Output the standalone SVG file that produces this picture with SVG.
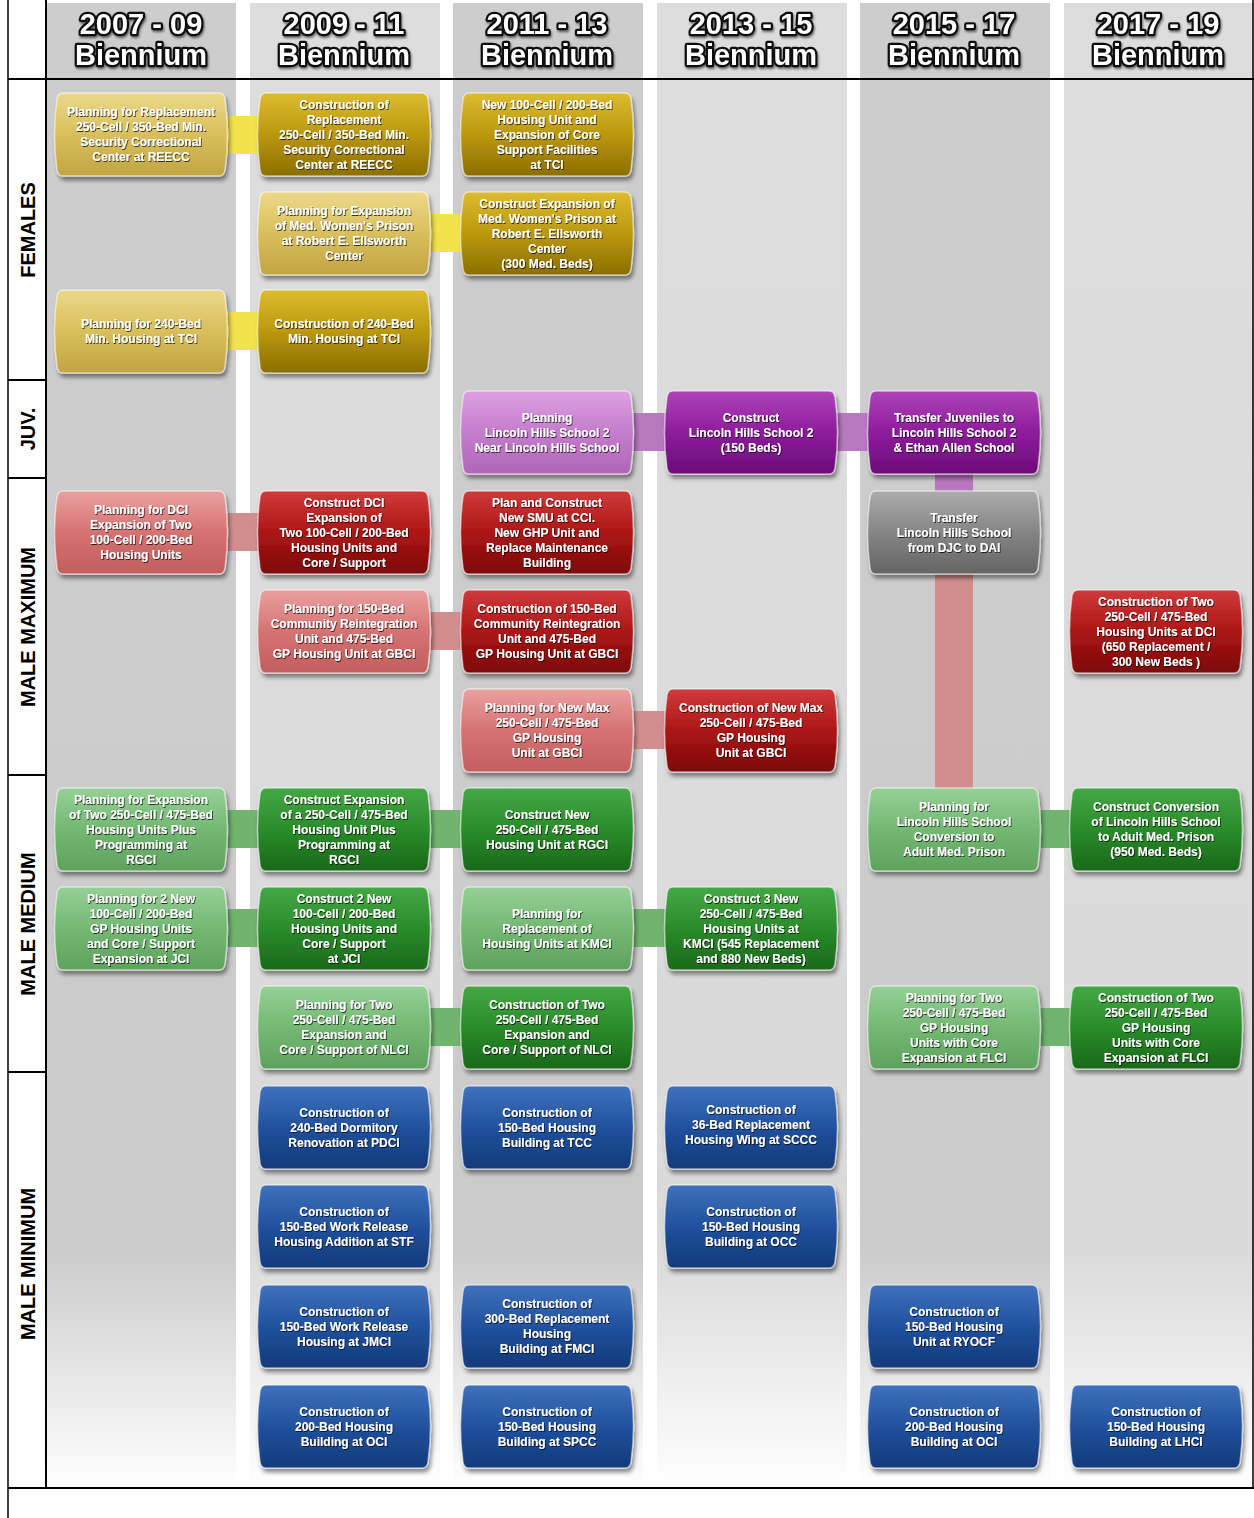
<svg xmlns="http://www.w3.org/2000/svg" xmlns:xlink="http://www.w3.org/1999/xlink" width="1254" height="1518" viewBox="0 0 1254 1518">
<defs>
<linearGradient id="bgD" gradientUnits="userSpaceOnUse" x1="0" y1="0" x2="0" y2="1488"><stop offset="0" stop-color="#cdcdcd"/><stop offset="0.84" stop-color="#cbcbcb"/><stop offset="1" stop-color="#ffffff"/></linearGradient>
<linearGradient id="bgL" gradientUnits="userSpaceOnUse" x1="0" y1="0" x2="0" y2="1488"><stop offset="0" stop-color="#dddddd"/><stop offset="0.84" stop-color="#dadada"/><stop offset="1" stop-color="#ffffff"/></linearGradient>
<linearGradient id="gGoldD" x1="0" y1="0" x2="0" y2="1"><stop offset="0" stop-color="#dcbc30"/><stop offset="0.5" stop-color="#bb980e"/><stop offset="1" stop-color="#8c6e00"/></linearGradient>
<linearGradient id="gGoldL" x1="0" y1="0" x2="0" y2="1"><stop offset="0" stop-color="#ecd888"/><stop offset="0.5" stop-color="#d9bf5c"/><stop offset="1" stop-color="#c2a444"/></linearGradient>
<linearGradient id="gPurD" x1="0" y1="0" x2="0" y2="1"><stop offset="0" stop-color="#ae44b8"/><stop offset="0.5" stop-color="#8e1c9c"/><stop offset="1" stop-color="#6c0c78"/></linearGradient>
<linearGradient id="gPurL" x1="0" y1="0" x2="0" y2="1"><stop offset="0" stop-color="#dea0e2"/><stop offset="0.5" stop-color="#c47ccc"/><stop offset="1" stop-color="#b066b8"/></linearGradient>
<linearGradient id="gRedD" x1="0" y1="0" x2="0" y2="1"><stop offset="0" stop-color="#d03a3a"/><stop offset="0.5" stop-color="#ac1616"/><stop offset="1" stop-color="#7c0808"/></linearGradient>
<linearGradient id="gRedL" x1="0" y1="0" x2="0" y2="1"><stop offset="0" stop-color="#eaa0a0"/><stop offset="0.5" stop-color="#d67272"/><stop offset="1" stop-color="#c25e5e"/></linearGradient>
<linearGradient id="gGray" x1="0" y1="0" x2="0" y2="1"><stop offset="0" stop-color="#acacac"/><stop offset="0.5" stop-color="#858585"/><stop offset="1" stop-color="#646464"/></linearGradient>
<linearGradient id="gGrnD" x1="0" y1="0" x2="0" y2="1"><stop offset="0" stop-color="#44a844"/><stop offset="0.5" stop-color="#2a8c2a"/><stop offset="1" stop-color="#1a681a"/></linearGradient>
<linearGradient id="gGrnL" x1="0" y1="0" x2="0" y2="1"><stop offset="0" stop-color="#96d096"/><stop offset="0.5" stop-color="#74b874"/><stop offset="1" stop-color="#5ea25e"/></linearGradient>
<linearGradient id="gBlue" x1="0" y1="0" x2="0" y2="1"><stop offset="0" stop-color="#3f72bd"/><stop offset="0.5" stop-color="#21519e"/><stop offset="1" stop-color="#133a7a"/></linearGradient>
<filter id="sh" x="-10%" y="-10%" width="125%" height="135%"><feDropShadow dx="2" dy="4" stdDeviation="2.2" flood-color="#000" flood-opacity="0.45"/></filter>
<filter id="tsh" x="-5%" y="-10%" width="115%" height="130%"><feDropShadow dx="0.8" dy="1" stdDeviation="0.6" flood-color="#000" flood-opacity="0.75"/></filter>
<filter id="hsh" x="-5%" y="-10%" width="115%" height="130%"><feDropShadow dx="1" dy="2" stdDeviation="1" flood-color="#000" flood-opacity="0.5"/></filter>
<path id="box" d="M6,0 H162 Q167,0 168,6 Q173,41.5 168,77 Q167,83 162,83 H6 Q1,83 0,77 Q-5,41.5 0,6 Q1,0 6,0 Z"/>
</defs>
<style>
.b{filter:url(#sh);stroke:#ffffff;stroke-opacity:0.55;stroke-width:1.5}
.gd{fill:url(#gGoldD)} .gl{fill:url(#gGoldL)} .pd{fill:url(#gPurD)} .pl{fill:url(#gPurL)}
.rd{fill:url(#gRedD)} .rl{fill:url(#gRedL)} .gy{fill:url(#gGray)} .nd{fill:url(#gGrnD)} .nl{fill:url(#gGrnL)} .bl{fill:url(#gBlue)}
.t{font-family:"Liberation Sans",Arial,sans-serif;font-weight:bold;font-size:12px;fill:#ffffff;text-anchor:middle;filter:url(#tsh)}
.h{font-family:"Liberation Sans",Arial,sans-serif;font-weight:bold;font-size:29px;fill:#ffffff;stroke:#111111;stroke-width:4.5px;stroke-linejoin:round;paint-order:stroke;text-anchor:middle;filter:url(#hsh)}
.lab{font-family:"Liberation Sans",Arial,sans-serif;font-weight:bold;font-size:20px;fill:#000000;text-anchor:middle}
.cy{fill:#f2e24c} .cp{fill:#b878c0} .cr{fill:#d28e8e} .cg{fill:#70b470}
.ln{stroke:#000;fill:none}
</style>

<g id="columns">
<rect x="47" y="3" width="189" height="1485" fill="url(#bgD)"/>
<rect x="250" y="3" width="190" height="1485" fill="url(#bgL)"/>
<rect x="453" y="3" width="190" height="1485" fill="url(#bgD)"/>
<rect x="657" y="3" width="190" height="1485" fill="url(#bgL)"/>
<rect x="860" y="3" width="190" height="1485" fill="url(#bgD)"/>
<rect x="1064" y="3" width="190" height="1485" fill="url(#bgL)"/>
</g>

<g id="headers">
<text class="h" x="141" y="34">2007 - 09</text><text class="h" x="141" y="65">Biennium</text>
<text class="h" x="344" y="34">2009 - 11</text><text class="h" x="344" y="65">Biennium</text>
<text class="h" x="547" y="34">2011 - 13</text><text class="h" x="547" y="65">Biennium</text>
<text class="h" x="751" y="34">2013 - 15</text><text class="h" x="751" y="65">Biennium</text>
<text class="h" x="954" y="34">2015 - 17</text><text class="h" x="954" y="65">Biennium</text>
<text class="h" x="1158" y="34">2017 - 19</text><text class="h" x="1158" y="65">Biennium</text>
</g>

<g id="frame">
<line class="ln" x1="8" y1="0" x2="8" y2="1518" stroke-width="1.5"/>
<line class="ln" x1="46" y1="0" x2="46" y2="1489" stroke-width="2"/>
<line class="ln" x1="1253" y1="0" x2="1253" y2="1489" stroke-width="1.5" stroke="#444"/>
<line class="ln" x1="8" y1="79" x2="1254" y2="79" stroke-width="2" stroke="#333"/>
<line class="ln" x1="8" y1="380" x2="46" y2="380" stroke-width="2"/>
<line class="ln" x1="8" y1="478" x2="46" y2="478" stroke-width="2"/>
<line class="ln" x1="8" y1="775" x2="46" y2="775" stroke-width="2"/>
<line class="ln" x1="8" y1="1072" x2="46" y2="1072" stroke-width="2"/>
<line class="ln" x1="8" y1="1488" x2="1254" y2="1488" stroke-width="2"/>
</g>

<g id="row-labels">
<text class="lab" transform="translate(35,230) rotate(-90)">FEMALES</text>
<text class="lab" transform="translate(35,429) rotate(-90)">JUV.</text>
<text class="lab" transform="translate(35,627) rotate(-90)">MALE MAXIMUM</text>
<text class="lab" transform="translate(35,924) rotate(-90)">MALE MEDIUM</text>
<text class="lab" transform="translate(35,1264) rotate(-90)">MALE MINIMUM</text>
</g>

<g id="connectors">
<rect class="cy" x="222" y="116" width="42" height="38"/>
<rect class="cy" x="425" y="214" width="42" height="38"/>
<rect class="cy" x="222" y="312" width="42" height="38"/>
<rect class="cp" x="628" y="413" width="43" height="38"/>
<rect class="cp" x="832" y="413" width="42" height="38"/>
<rect class="cp" x="935" y="470" width="38" height="25"/>
<rect class="cr" x="222" y="513" width="42" height="38"/>
<rect class="cr" x="425" y="612" width="42" height="38"/>
<rect class="cr" x="628" y="711" width="43" height="38"/>
<rect class="cr" x="935" y="570" width="38" height="222"/>
<rect class="cg" x="222" y="810" width="42" height="38"/>
<rect class="cg" x="425" y="810" width="42" height="38"/>
<rect class="cg" x="1035" y="810" width="41" height="38"/>
<rect class="cg" x="222" y="909" width="42" height="38"/>
<rect class="cg" x="628" y="909" width="43" height="38"/>
<rect class="cg" x="425" y="1008" width="42" height="38"/>
<rect class="cg" x="1035" y="1008" width="41" height="38"/>
</g>

<!-- FEMALES -->
<g id="f1-plan-reecc"><use xlink:href="#box" href="#box" x="57" y="93" class="b gl"/>
<text class="t" x="141" y="116"><tspan x="141">Planning for Replacement</tspan><tspan x="141" dy="15">250-Cell / 350-Bed Min.</tspan><tspan x="141" dy="15">Security Correctional</tspan><tspan x="141" dy="15">Center at REECC</tspan></text></g>
<g id="f2-const-reecc"><use xlink:href="#box" href="#box" x="260" y="93" class="b gd"/>
<text class="t" x="344" y="108.5"><tspan x="344">Construction of</tspan><tspan x="344" dy="15">Replacement</tspan><tspan x="344" dy="15">250-Cell / 350-Bed Min.</tspan><tspan x="344" dy="15">Security Correctional</tspan><tspan x="344" dy="15">Center at REECC</tspan></text></g>
<g id="f3-new-tci"><use xlink:href="#box" href="#box" x="463" y="93" class="b gd"/>
<text class="t" x="547" y="108.5"><tspan x="547">New 100-Cell / 200-Bed</tspan><tspan x="547" dy="15">Housing Unit and</tspan><tspan x="547" dy="15">Expansion of Core</tspan><tspan x="547" dy="15">Support Facilities</tspan><tspan x="547" dy="15">at TCI</tspan></text></g>
<g id="f2-plan-rec"><use xlink:href="#box" href="#box" x="260" y="192" class="b gl"/>
<text class="t" x="344" y="215"><tspan x="344">Planning for Expansion</tspan><tspan x="344" dy="15">of Med. Women's Prison</tspan><tspan x="344" dy="15">at Robert E. Ellsworth</tspan><tspan x="344" dy="15">Center</tspan></text></g>
<g id="f3-const-rec"><use xlink:href="#box" href="#box" x="463" y="192" class="b gd"/>
<text class="t" x="547" y="207.5"><tspan x="547">Construct Expansion of</tspan><tspan x="547" dy="15">Med. Women's Prison at</tspan><tspan x="547" dy="15">Robert E. Ellsworth</tspan><tspan x="547" dy="15">Center</tspan><tspan x="547" dy="15">(300 Med. Beds)</tspan></text></g>
<g id="f1-plan-tci"><use xlink:href="#box" href="#box" x="57" y="290" class="b gl"/>
<text class="t" x="141" y="328"><tspan x="141">Planning for 240-Bed</tspan><tspan x="141" dy="15">Min. Housing at TCI</tspan></text></g>
<g id="f2-const-tci"><use xlink:href="#box" href="#box" x="260" y="290" class="b gd"/>
<text class="t" x="344" y="328"><tspan x="344">Construction of 240-Bed</tspan><tspan x="344" dy="15">Min. Housing at TCI</tspan></text></g>

<!-- JUV -->
<g id="j3-plan-lhs2"><use xlink:href="#box" href="#box" x="463" y="391" class="b pl"/>
<text class="t" x="547" y="421.5"><tspan x="547">Planning</tspan><tspan x="547" dy="15">Lincoln Hills School 2</tspan><tspan x="547" dy="15">Near Lincoln Hills School</tspan></text></g>
<g id="j4-const-lhs2"><use xlink:href="#box" href="#box" x="667" y="391" class="b pd"/>
<text class="t" x="751" y="421.5"><tspan x="751">Construct</tspan><tspan x="751" dy="15">Lincoln Hills School 2</tspan><tspan x="751" dy="15">(150 Beds)</tspan></text></g>
<g id="j5-transfer"><use xlink:href="#box" href="#box" x="870" y="391" class="b pd"/>
<text class="t" x="954" y="421.5"><tspan x="954">Transfer Juveniles to</tspan><tspan x="954" dy="15">Lincoln Hills School 2</tspan><tspan x="954" dy="15">&amp; Ethan Allen School</tspan></text></g>

<!-- MALE MAXIMUM -->
<g id="x1-plan-dci"><use xlink:href="#box" href="#box" x="57" y="491" class="b rl"/>
<text class="t" x="141" y="514"><tspan x="141">Planning for DCI</tspan><tspan x="141" dy="15">Expansion of Two</tspan><tspan x="141" dy="15">100-Cell / 200-Bed</tspan><tspan x="141" dy="15">Housing Units</tspan></text></g>
<g id="x2-const-dci"><use xlink:href="#box" href="#box" x="260" y="491" class="b rd"/>
<text class="t" x="344" y="506.5"><tspan x="344">Construct DCI</tspan><tspan x="344" dy="15">Expansion of</tspan><tspan x="344" dy="15">Two 100-Cell / 200-Bed</tspan><tspan x="344" dy="15">Housing Units and</tspan><tspan x="344" dy="15">Core / Support</tspan></text></g>
<g id="x3-smu-cci"><use xlink:href="#box" href="#box" x="463" y="491" class="b rd"/>
<text class="t" x="547" y="506.5"><tspan x="547">Plan and Construct</tspan><tspan x="547" dy="15">New SMU at CCI.</tspan><tspan x="547" dy="15">New GHP Unit and</tspan><tspan x="547" dy="15">Replace Maintenance</tspan><tspan x="547" dy="15">Building</tspan></text></g>
<g id="x5-transfer-lhs"><use xlink:href="#box" href="#box" x="870" y="491" class="b gy"/>
<text class="t" x="954" y="521.5"><tspan x="954">Transfer</tspan><tspan x="954" dy="15">Lincoln Hills School</tspan><tspan x="954" dy="15">from DJC to DAI</tspan></text></g>
<g id="x2-plan-gbci"><use xlink:href="#box" href="#box" x="260" y="590" class="b rl"/>
<text class="t" x="344" y="613"><tspan x="344">Planning for 150-Bed</tspan><tspan x="344" dy="15">Community Reintegration</tspan><tspan x="344" dy="15">Unit and 475-Bed</tspan><tspan x="344" dy="15">GP Housing Unit at GBCI</tspan></text></g>
<g id="x3-const-gbci"><use xlink:href="#box" href="#box" x="463" y="590" class="b rd"/>
<text class="t" x="547" y="613"><tspan x="547">Construction of 150-Bed</tspan><tspan x="547" dy="15">Community Reintegration</tspan><tspan x="547" dy="15">Unit and 475-Bed</tspan><tspan x="547" dy="15">GP Housing Unit at GBCI</tspan></text></g>
<g id="x6-const-dci"><use xlink:href="#box" href="#box" x="1072" y="590" class="b rd"/>
<text class="t" x="1156" y="605.5"><tspan x="1156">Construction of Two</tspan><tspan x="1156" dy="15">250-Cell / 475-Bed</tspan><tspan x="1156" dy="15">Housing Units at DCI</tspan><tspan x="1156" dy="15">(650 Replacement /</tspan><tspan x="1156" dy="15">300 New Beds )</tspan></text></g>
<g id="x3-plan-max"><use xlink:href="#box" href="#box" x="463" y="689" class="b rl"/>
<text class="t" x="547" y="712"><tspan x="547">Planning for New Max</tspan><tspan x="547" dy="15">250-Cell / 475-Bed</tspan><tspan x="547" dy="15">GP Housing</tspan><tspan x="547" dy="15">Unit at GBCI</tspan></text></g>
<g id="x4-const-max"><use xlink:href="#box" href="#box" x="667" y="689" class="b rd"/>
<text class="t" x="751" y="712"><tspan x="751">Construction of New Max</tspan><tspan x="751" dy="15">250-Cell / 475-Bed</tspan><tspan x="751" dy="15">GP Housing</tspan><tspan x="751" dy="15">Unit at GBCI</tspan></text></g>

<!-- MALE MEDIUM -->
<g id="m1-plan-rgci"><use xlink:href="#box" href="#box" x="57" y="788" class="b nl"/>
<text class="t" x="141" y="803.5"><tspan x="141">Planning for Expansion</tspan><tspan x="141" dy="15">of Two 250-Cell / 475-Bed</tspan><tspan x="141" dy="15">Housing Units Plus</tspan><tspan x="141" dy="15">Programming at</tspan><tspan x="141" dy="15">RGCI</tspan></text></g>
<g id="m2-const-rgci"><use xlink:href="#box" href="#box" x="260" y="788" class="b nd"/>
<text class="t" x="344" y="803.5"><tspan x="344">Construct Expansion</tspan><tspan x="344" dy="15">of a 250-Cell / 475-Bed</tspan><tspan x="344" dy="15">Housing Unit Plus</tspan><tspan x="344" dy="15">Programming at</tspan><tspan x="344" dy="15">RGCI</tspan></text></g>
<g id="m3-new-rgci"><use xlink:href="#box" href="#box" x="463" y="788" class="b nd"/>
<text class="t" x="547" y="818.5"><tspan x="547">Construct New</tspan><tspan x="547" dy="15">250-Cell / 475-Bed</tspan><tspan x="547" dy="15">Housing Unit at RGCI</tspan></text></g>
<g id="m5-plan-lhs"><use xlink:href="#box" href="#box" x="870" y="788" class="b nl"/>
<text class="t" x="954" y="811"><tspan x="954">Planning for</tspan><tspan x="954" dy="15">Lincoln Hills School</tspan><tspan x="954" dy="15">Conversion to</tspan><tspan x="954" dy="15">Adult Med. Prison</tspan></text></g>
<g id="m6-conv-lhs"><use xlink:href="#box" href="#box" x="1072" y="788" class="b nd"/>
<text class="t" x="1156" y="811"><tspan x="1156">Construct Conversion</tspan><tspan x="1156" dy="15">of Lincoln Hills School</tspan><tspan x="1156" dy="15">to Adult Med. Prison</tspan><tspan x="1156" dy="15">(950 Med. Beds)</tspan></text></g>
<g id="m1-plan-jci"><use xlink:href="#box" href="#box" x="57" y="887" class="b nl"/>
<text class="t" x="141" y="902.5"><tspan x="141">Planning for 2 New</tspan><tspan x="141" dy="15">100-Cell / 200-Bed</tspan><tspan x="141" dy="15">GP Housing Units</tspan><tspan x="141" dy="15">and Core / Support</tspan><tspan x="141" dy="15">Expansion at JCI</tspan></text></g>
<g id="m2-const-jci"><use xlink:href="#box" href="#box" x="260" y="887" class="b nd"/>
<text class="t" x="344" y="902.5"><tspan x="344">Construct 2 New</tspan><tspan x="344" dy="15">100-Cell / 200-Bed</tspan><tspan x="344" dy="15">Housing Units and</tspan><tspan x="344" dy="15">Core / Support</tspan><tspan x="344" dy="15">at JCI</tspan></text></g>
<g id="m3-plan-kmci"><use xlink:href="#box" href="#box" x="463" y="887" class="b nl"/>
<text class="t" x="547" y="917.5"><tspan x="547">Planning for</tspan><tspan x="547" dy="15">Replacement of</tspan><tspan x="547" dy="15">Housing Units at KMCI</tspan></text></g>
<g id="m4-const-kmci"><use xlink:href="#box" href="#box" x="667" y="887" class="b nd"/>
<text class="t" x="751" y="902.5"><tspan x="751">Construct 3 New</tspan><tspan x="751" dy="15">250-Cell / 475-Bed</tspan><tspan x="751" dy="15">Housing Units at</tspan><tspan x="751" dy="15">KMCI (545 Replacement</tspan><tspan x="751" dy="15">and 880 New Beds)</tspan></text></g>
<g id="m2-plan-nlci"><use xlink:href="#box" href="#box" x="260" y="986" class="b nl"/>
<text class="t" x="344" y="1009"><tspan x="344">Planning for Two</tspan><tspan x="344" dy="15">250-Cell / 475-Bed</tspan><tspan x="344" dy="15">Expansion and</tspan><tspan x="344" dy="15">Core / Support of NLCI</tspan></text></g>
<g id="m3-const-nlci"><use xlink:href="#box" href="#box" x="463" y="986" class="b nd"/>
<text class="t" x="547" y="1009"><tspan x="547">Construction of Two</tspan><tspan x="547" dy="15">250-Cell / 475-Bed</tspan><tspan x="547" dy="15">Expansion and</tspan><tspan x="547" dy="15">Core / Support of NLCI</tspan></text></g>
<g id="m5-plan-flci"><use xlink:href="#box" href="#box" x="870" y="986" class="b nl"/>
<text class="t" x="954" y="1001.5"><tspan x="954">Planning for Two</tspan><tspan x="954" dy="15">250-Cell / 475-Bed</tspan><tspan x="954" dy="15">GP Housing</tspan><tspan x="954" dy="15">Units with Core</tspan><tspan x="954" dy="15">Expansion at FLCI</tspan></text></g>
<g id="m6-const-flci"><use xlink:href="#box" href="#box" x="1072" y="986" class="b nd"/>
<text class="t" x="1156" y="1001.5"><tspan x="1156">Construction of Two</tspan><tspan x="1156" dy="15">250-Cell / 475-Bed</tspan><tspan x="1156" dy="15">GP Housing</tspan><tspan x="1156" dy="15">Units with Core</tspan><tspan x="1156" dy="15">Expansion at FLCI</tspan></text></g>

<!-- MALE MINIMUM -->
<g id="n2-pdci"><use xlink:href="#box" href="#box" x="260" y="1086" class="b bl"/>
<text class="t" x="344" y="1116.5"><tspan x="344">Construction of</tspan><tspan x="344" dy="15">240-Bed Dormitory</tspan><tspan x="344" dy="15">Renovation at PDCI</tspan></text></g>
<g id="n3-tcc"><use xlink:href="#box" href="#box" x="463" y="1086" class="b bl"/>
<text class="t" x="547" y="1116.5"><tspan x="547">Construction of</tspan><tspan x="547" dy="15">150-Bed Housing</tspan><tspan x="547" dy="15">Building at TCC</tspan></text></g>
<g id="n4-sccc"><use xlink:href="#box" href="#box" x="667" y="1086" class="b bl"/>
<text class="t" x="751" y="1113.5"><tspan x="751">Construction of</tspan><tspan x="751" dy="15">36-Bed Replacement</tspan><tspan x="751" dy="15">Housing Wing at SCCC</tspan></text></g>
<g id="n2-stf"><use xlink:href="#box" href="#box" x="260" y="1185" class="b bl"/>
<text class="t" x="344" y="1215.5"><tspan x="344">Construction of</tspan><tspan x="344" dy="15">150-Bed Work Release</tspan><tspan x="344" dy="15">Housing Addition at STF</tspan></text></g>
<g id="n4-occ"><use xlink:href="#box" href="#box" x="667" y="1185" class="b bl"/>
<text class="t" x="751" y="1215.5"><tspan x="751">Construction of</tspan><tspan x="751" dy="15">150-Bed Housing</tspan><tspan x="751" dy="15">Building at OCC</tspan></text></g>
<g id="n2-jmci"><use xlink:href="#box" href="#box" x="260" y="1285" class="b bl"/>
<text class="t" x="344" y="1315.5"><tspan x="344">Construction of</tspan><tspan x="344" dy="15">150-Bed Work Release</tspan><tspan x="344" dy="15">Housing at JMCI</tspan></text></g>
<g id="n3-fmci"><use xlink:href="#box" href="#box" x="463" y="1285" class="b bl"/>
<text class="t" x="547" y="1308"><tspan x="547">Construction of</tspan><tspan x="547" dy="15">300-Bed Replacement</tspan><tspan x="547" dy="15">Housing</tspan><tspan x="547" dy="15">Building at FMCI</tspan></text></g>
<g id="n5-ryocf"><use xlink:href="#box" href="#box" x="870" y="1285" class="b bl"/>
<text class="t" x="954" y="1315.5"><tspan x="954">Construction of</tspan><tspan x="954" dy="15">150-Bed Housing</tspan><tspan x="954" dy="15">Unit at RYOCF</tspan></text></g>
<g id="n2-oci"><use xlink:href="#box" href="#box" x="260" y="1385" class="b bl"/>
<text class="t" x="344" y="1415.5"><tspan x="344">Construction of</tspan><tspan x="344" dy="15">200-Bed Housing</tspan><tspan x="344" dy="15">Building at OCI</tspan></text></g>
<g id="n3-spcc"><use xlink:href="#box" href="#box" x="463" y="1385" class="b bl"/>
<text class="t" x="547" y="1415.5"><tspan x="547">Construction of</tspan><tspan x="547" dy="15">150-Bed Housing</tspan><tspan x="547" dy="15">Building at SPCC</tspan></text></g>
<g id="n5-oci"><use xlink:href="#box" href="#box" x="870" y="1385" class="b bl"/>
<text class="t" x="954" y="1415.5"><tspan x="954">Construction of</tspan><tspan x="954" dy="15">200-Bed Housing</tspan><tspan x="954" dy="15">Building at OCI</tspan></text></g>
<g id="n6-lhci"><use xlink:href="#box" href="#box" x="1072" y="1385" class="b bl"/>
<text class="t" x="1156" y="1415.5"><tspan x="1156">Construction of</tspan><tspan x="1156" dy="15">150-Bed Housing</tspan><tspan x="1156" dy="15">Building at LHCI</tspan></text></g>
</svg>
